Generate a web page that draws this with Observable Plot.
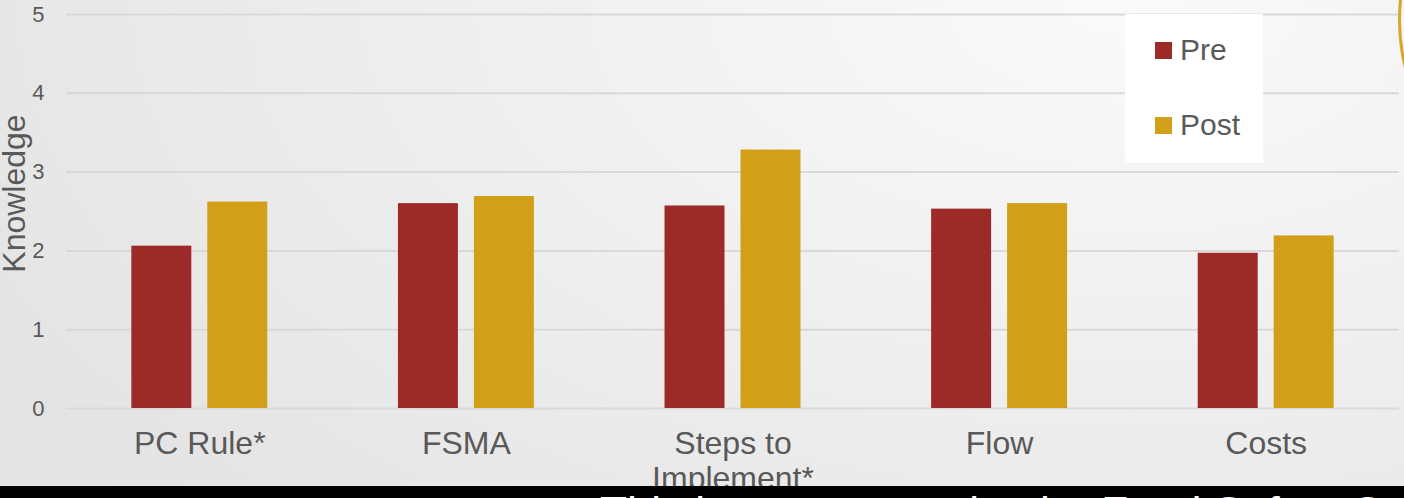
<!DOCTYPE html>
<html><head><meta charset="utf-8">
<script src="https://cdn.jsdelivr.net/npm/d3@7"></script>
<script src="https://cdn.jsdelivr.net/npm/@observablehq/plot@0.6"></script>
<style>
body{margin:0;background:#000;}
#wrap{position:relative;width:1404px;height:498px;overflow:hidden;
 background:radial-gradient(ellipse 95% 150% at 80% 0%, #fafafa 0%, #f1f1f1 40%, #e3e3e3 100%);
 font-family:"Liberation Sans",Arial,sans-serif;color:#595959;}
#chart{position:absolute;left:0;top:0;}
#legend{position:absolute;left:1125px;top:14px;width:138px;height:149px;background:#fff;}
.item{position:absolute;left:30px;height:34px;display:flex;align-items:center;font-size:30px;color:#595959;}
.sw{width:17px;height:17px;margin-right:8px;}
#arc{position:absolute;left:1398px;top:-180px;width:400px;height:400px;border-radius:50%;border:3px solid #d4a82a;box-sizing:border-box;}
#band{position:absolute;left:0;top:486px;width:1404px;height:12px;background:#000;overflow:hidden;}
#band span{position:absolute;left:600px;top:5px;font-size:44px;line-height:44px;color:#fff;white-space:nowrap;}
</style></head>
<body>
<div id="wrap">
 <div id="chart"></div>
 <div id="arc"></div>
 <div id="legend"></div>
 <div id="band"><span>This is a summary by the Food Safety Center</span></div>
</div>
<script>
const categories = ["PC Rule*", "FSMA", "Steps to\nImplement*", "Flow", "Costs"];
const series = ["Pre", "Post"];
const preValues = [2.06, 2.60, 2.57, 2.53, 1.97];
const postValues = [2.62, 2.69, 3.28, 2.60, 2.19];
const seriesColors = ["#9c2a26", "#d1a018"];
const yTicks = [0, 1, 2, 3, 4, 5];
const yLabel = "Knowledge";

const data = [];
categories.forEach((c, i) => {
  data.push({category: c, series: "Pre", value: preValues[i]});
  data.push({category: c, series: "Post", value: postValues[i]});
});

const chart = Plot.plot({
  width: 1404, height: 498,
  marginTop: 14, marginBottom: 90, marginLeft: 66, marginRight: 5,
  style: {background: "transparent", fontFamily: "'Liberation Sans', Arial, sans-serif", color: "#595959", overflow: "visible"},
  fx: {domain: categories, padding: 0, round: false, label: null},
  x: {domain: series, paddingInner: 0.2105, paddingOuter: 0.86, round: false, axis: null},
  y: {domain: [0, 5]},
  color: {domain: series, range: seriesColors},
  marks: [
    Plot.gridY(yTicks, {stroke: "#d9d9d9", strokeOpacity: 1, strokeWidth: 2}),
    Plot.barY(data, {fx: "category", x: "series", y: "value", fill: "series"}),
    Plot.axisY(yTicks, {tickSize: 0, tickPadding: 22, fontSize: 22, tickFormat: d => String(d), label: null, fill: "#595959"}),
    Plot.axisFx({anchor: "bottom", tickSize: 0, tickPadding: 21, fontSize: 32, label: null, lineHeight: 1.08, fill: "#595959"}),
    Plot.text([yLabel], {frameAnchor: "left", textAnchor: "middle", rotate: -90, dx: -52, dy: -18, fontSize: 32, fill: "#595959", facetAnchor: "left"})
  ]
});
document.getElementById("chart").appendChild(chart);

const legend = document.getElementById("legend");
const tops = [19, 94];
series.forEach((s, i) => {
  const it = document.createElement("div");
  it.className = "item";
  it.style.top = tops[i] + "px";
  const sw = document.createElement("div");
  sw.className = "sw";
  sw.style.background = seriesColors[i];
  it.appendChild(sw);
  it.appendChild(document.createTextNode(s));
  legend.appendChild(it);
});
</script>
</body></html>
